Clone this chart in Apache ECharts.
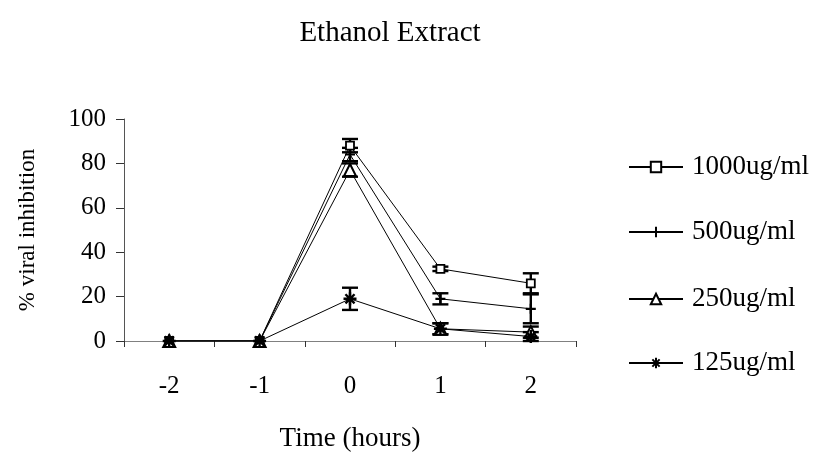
<!DOCTYPE html>
<html><head><meta charset="utf-8">
<script src="https://cdn.jsdelivr.net/npm/echarts@6/dist/echarts.min.js"></script>
<style>html,body{margin:0;padding:0;background:#fff}#c{width:820px;height:458px}</style>
</head><body><div id="c"></div>
<script>
var categories = ['-2', '-1', '0', '1', '2'];
var seriesNames = ['1000ug/ml', '500ug/ml', '250ug/ml', '125ug/ml'];
var v1000 = [0, 0, 88, 32.5, 26];
var e1000 = [0, 0, 3, 1, 4.5];
var v500 = [0, 0, 84, 19, 14.5];
var e500 = [0, 0, 3, 2.5, 6.5];
var v250 = [0, 0, 77, 5.5, 4];
var e250 = [0, 0, 3, 2.5, 2.5];
var v125 = [0, 0, 19, 5.5, 2];
var e125 = [0, 0, 5, 2.5, 2];
var yTicks = [0, 20, 40, 60, 80, 100];

var values = [v1000, v500, v250, v125];
var errors = [e1000, e500, e250, e125];
var symbols = [
  'rect',
  'path://M0,5 L10,5 M5,0 L5,10',
  'triangle',
  'path://M0,5 L10,5 M5,0 L5,10 M1.5,1.5 L8.5,8.5 M8.5,1.5 L1.5,8.5'
];
var symbolSizes = [8, 10, 12, 13];
var styles = [
  {color: '#fff', borderColor: '#000', borderWidth: 1.8},
  {color: '#000', borderColor: '#000', borderWidth: 2.2},
  {color: '#fff', borderColor: '#000', borderWidth: 2},
  {color: '#000', borderColor: '#000', borderWidth: 2.4}
];

var series = [];
values.forEach(function (vals, i) {
  series.push({
    name: seriesNames[i], type: 'line', data: vals,
    symbol: symbols[i], symbolSize: symbolSizes[i], showAllSymbol: true,
    lineStyle: {color: '#000', width: 1}, itemStyle: styles[i],
    z: 3
  });
  var errData = vals.map(function (v, k) { return [k, v - errors[i][k], v + errors[i][k]]; })
    .filter(function (d) { return d[2] > d[1]; });
  series.push({
    type: 'custom', name: seriesNames[i] + ' err', data: errData, z: 2,
    renderItem: function (params, api) {
      var x = api.value(0);
      var lo = api.coord([x, api.value(1)]);
      var hi = api.coord([x, api.value(2)]);
      var w = 8;
      var st = {stroke: '#000', lineWidth: 2.4};
      return {type: 'group', children: [
        {type: 'line', shape: {x1: lo[0], y1: lo[1], x2: hi[0], y2: hi[1]}, style: st},
        {type: 'line', shape: {x1: lo[0] - w, y1: lo[1], x2: lo[0] + w, y2: lo[1]}, style: st},
        {type: 'line', shape: {x1: hi[0] - w, y1: hi[1], x2: hi[0] + w, y2: hi[1]}, style: st}
      ]};
    }
  });
});

var font = 'Liberation Serif';
var legendCenters = [165, 230, 297, 361];
var legends = seriesNames.map(function (n, i) {
  return {
    orient: 'vertical', left: 628, top: legendCenters[i] - 13, padding: 0,
    itemWidth: 54, itemHeight: 13,
    data: [n],
    textStyle: {fontFamily: font, fontSize: 27, lineHeight: 30, color: '#000', padding: [0, 0, 0, 4]}
  };
});

var chart = echarts.init(document.getElementById('c'), null, {renderer: 'canvas'});
chart.setOption({
  animation: false,
  backgroundColor: '#fff',
  textStyle: {fontFamily: font, color: '#000'},
  title: {text: 'Ethanol Extract', left: 385, top: 14, textAlign: 'center',
    textStyle: {fontFamily: font, fontSize: 29, fontWeight: 'normal', color: '#000'}},
  legend: legends,
  grid: {left: 124, right: 244, top: 119, bottom: 117},
  xAxis: {
    type: 'category', data: categories, boundaryGap: true,
    name: 'Time (hours)', nameLocation: 'middle', nameGap: 84,
    nameTextStyle: {fontFamily: font, fontSize: 27, color: '#000'},
    axisLine: {lineStyle: {color: '#808080', width: 1}},
    axisTick: {show: true, length: 6, lineStyle: {color: '#333'}},
    axisLabel: {fontFamily: font, fontSize: 25, color: '#000', margin: 33}
  },
  yAxis: {
    type: 'value', min: yTicks[0], max: yTicks[yTicks.length - 1], interval: 20,
    name: '% viral inhibition', nameLocation: 'middle', nameGap: 85, nameRotate: 90,
    nameTextStyle: {fontFamily: font, fontSize: 23, color: '#000'},
    axisLine: {show: true, lineStyle: {color: '#555', width: 1}},
    axisTick: {show: true, length: 8, lineStyle: {color: '#333'}},
    splitLine: {show: false},
    axisLabel: {fontFamily: font, fontSize: 25, color: '#000', margin: 18}
  },
  series: series
});
</script></body></html>
